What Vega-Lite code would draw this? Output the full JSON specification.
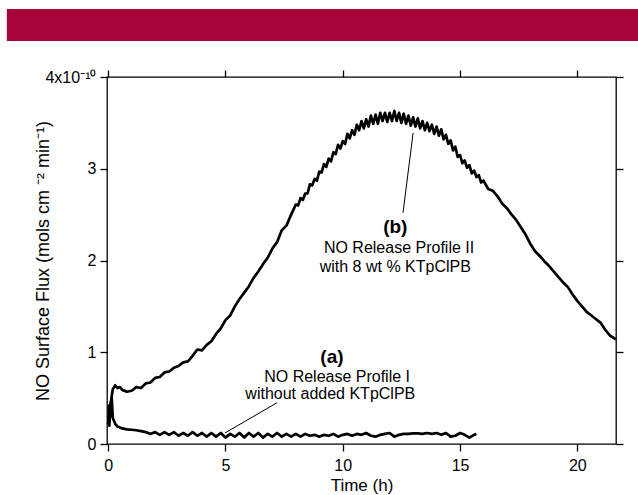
{
  "$schema": "https://vega.github.io/schema/vega-lite/v6.json",
  "autosize": "none",
  "width": 509,
  "height": 367,
  "padding": {"left": 107, "top": 77, "right": 22, "bottom": 51},
  "background": "white",
  "datasets": {
    "series": [
      {"series": "b", "t": 0.0, "v": 0.22}, {"series": "b", "t": 0.05, "v": 0.42}, {"series": "b", "t": 0.1, "v": 0.30}, {"series": "b", "t": 0.15, "v": 0.52}, {"series": "b", "t": 0.2, "v": 0.60}, {"series": "b", "t": 0.3, "v": 0.64}, {"series": "b", "t": 0.4, "v": 0.61}, {"series": "b", "t": 0.5, "v": 0.62}, {"series": "b", "t": 0.6, "v": 0.59}, {"series": "b", "t": 0.8, "v": 0.57},
      {"series": "b", "t": 1.0, "v": 0.58}, {"series": "b", "t": 1.2, "v": 0.62}, {"series": "b", "t": 1.4, "v": 0.61}, {"series": "b", "t": 1.6, "v": 0.66}, {"series": "b", "t": 1.8, "v": 0.67}, {"series": "b", "t": 2.0, "v": 0.72}, {"series": "b", "t": 2.2, "v": 0.73}, {"series": "b", "t": 2.4, "v": 0.78}, {"series": "b", "t": 2.6, "v": 0.79}, {"series": "b", "t": 2.8, "v": 0.83},
      {"series": "b", "t": 3.0, "v": 0.85}, {"series": "b", "t": 3.2, "v": 0.89}, {"series": "b", "t": 3.4, "v": 0.90}, {"series": "b", "t": 3.6, "v": 0.96}, {"series": "b", "t": 3.8, "v": 1.03}, {"series": "b", "t": 4.0, "v": 1.02}, {"series": "b", "t": 4.2, "v": 1.08}, {"series": "b", "t": 4.4, "v": 1.12}, {"series": "b", "t": 4.6, "v": 1.20}, {"series": "b", "t": 4.8, "v": 1.26},
      {"series": "b", "t": 5.0, "v": 1.35}, {"series": "b", "t": 5.2, "v": 1.40}, {"series": "b", "t": 5.4, "v": 1.50}, {"series": "b", "t": 5.6, "v": 1.58}, {"series": "b", "t": 5.8, "v": 1.65}, {"series": "b", "t": 6.0, "v": 1.72}, {"series": "b", "t": 6.2, "v": 1.81}, {"series": "b", "t": 6.4, "v": 1.88}, {"series": "b", "t": 6.6, "v": 1.96}, {"series": "b", "t": 6.8, "v": 2.03},
      {"series": "b", "t": 7.0, "v": 2.13}, {"series": "b", "t": 7.2, "v": 2.20}, {"series": "b", "t": 7.4, "v": 2.33}, {"series": "b", "t": 7.6, "v": 2.38}, {"series": "b", "t": 7.8, "v": 2.50},
      {"series": "b", "t": 8.0, "v": 2.61}, {"series": "b", "t": 8.1, "v": 2.60}, {"series": "b", "t": 8.2, "v": 2.68}, {"series": "b", "t": 8.3, "v": 2.66}, {"series": "b", "t": 8.4, "v": 2.73}, {"series": "b", "t": 8.5, "v": 2.73}, {"series": "b", "t": 8.6, "v": 2.83}, {"series": "b", "t": 8.7, "v": 2.82}, {"series": "b", "t": 8.8, "v": 2.89}, {"series": "b", "t": 8.9, "v": 2.87},
      {"series": "b", "t": 9.0, "v": 2.97}, {"series": "b", "t": 9.1, "v": 2.96}, {"series": "b", "t": 9.2, "v": 3.05}, {"series": "b", "t": 9.3, "v": 3.02}, {"series": "b", "t": 9.4, "v": 3.11}, {"series": "b", "t": 9.5, "v": 3.08}, {"series": "b", "t": 9.6, "v": 3.18}, {"series": "b", "t": 9.7, "v": 3.16}, {"series": "b", "t": 9.8, "v": 3.26}, {"series": "b", "t": 9.9, "v": 3.22},
      {"series": "b", "t": 10.0, "v": 3.30}, {"series": "b", "t": 10.1, "v": 3.27}, {"series": "b", "t": 10.2, "v": 3.38}, {"series": "b", "t": 10.3, "v": 3.33}, {"series": "b", "t": 10.4, "v": 3.42}, {"series": "b", "t": 10.5, "v": 3.37}, {"series": "b", "t": 10.6, "v": 3.48}, {"series": "b", "t": 10.7, "v": 3.42}, {"series": "b", "t": 10.8, "v": 3.52}, {"series": "b", "t": 10.9, "v": 3.44},
      {"series": "b", "t": 11.0, "v": 3.54}, {"series": "b", "t": 11.1, "v": 3.46}, {"series": "b", "t": 11.2, "v": 3.58}, {"series": "b", "t": 11.3, "v": 3.49}, {"series": "b", "t": 11.4, "v": 3.59}, {"series": "b", "t": 11.5, "v": 3.49}, {"series": "b", "t": 11.6, "v": 3.61}, {"series": "b", "t": 11.7, "v": 3.52}, {"series": "b", "t": 11.8, "v": 3.61}, {"series": "b", "t": 11.9, "v": 3.51},
      {"series": "b", "t": 12.0, "v": 3.61}, {"series": "b", "t": 12.1, "v": 3.52}, {"series": "b", "t": 12.2, "v": 3.63}, {"series": "b", "t": 12.3, "v": 3.52}, {"series": "b", "t": 12.4, "v": 3.61}, {"series": "b", "t": 12.5, "v": 3.50}, {"series": "b", "t": 12.6, "v": 3.60}, {"series": "b", "t": 12.7, "v": 3.49}, {"series": "b", "t": 12.8, "v": 3.58}, {"series": "b", "t": 12.9, "v": 3.47},
      {"series": "b", "t": 13.0, "v": 3.56}, {"series": "b", "t": 13.1, "v": 3.46}, {"series": "b", "t": 13.2, "v": 3.55}, {"series": "b", "t": 13.3, "v": 3.44}, {"series": "b", "t": 13.4, "v": 3.52}, {"series": "b", "t": 13.5, "v": 3.42}, {"series": "b", "t": 13.6, "v": 3.50}, {"series": "b", "t": 13.7, "v": 3.41}, {"series": "b", "t": 13.8, "v": 3.48}, {"series": "b", "t": 13.9, "v": 3.38},
      {"series": "b", "t": 14.0, "v": 3.46}, {"series": "b", "t": 14.1, "v": 3.36}, {"series": "b", "t": 14.2, "v": 3.43}, {"series": "b", "t": 14.3, "v": 3.32}, {"series": "b", "t": 14.4, "v": 3.37}, {"series": "b", "t": 14.5, "v": 3.27}, {"series": "b", "t": 14.6, "v": 3.31}, {"series": "b", "t": 14.7, "v": 3.20}, {"series": "b", "t": 14.8, "v": 3.24}, {"series": "b", "t": 14.9, "v": 3.13},
      {"series": "b", "t": 15.0, "v": 3.15}, {"series": "b", "t": 15.1, "v": 3.06}, {"series": "b", "t": 15.2, "v": 3.09}, {"series": "b", "t": 15.3, "v": 3.01}, {"series": "b", "t": 15.4, "v": 3.04}, {"series": "b", "t": 15.5, "v": 2.95}, {"series": "b", "t": 15.6, "v": 2.98}, {"series": "b", "t": 15.7, "v": 2.91}, {"series": "b", "t": 15.8, "v": 2.93}, {"series": "b", "t": 15.9, "v": 2.85},
      {"series": "b", "t": 16.0, "v": 2.87}, {"series": "b", "t": 16.2, "v": 2.78}, {"series": "b", "t": 16.4, "v": 2.76}, {"series": "b", "t": 16.6, "v": 2.70}, {"series": "b", "t": 16.8, "v": 2.62},
      {"series": "b", "t": 17.0, "v": 2.57}, {"series": "b", "t": 17.2, "v": 2.50}, {"series": "b", "t": 17.4, "v": 2.44}, {"series": "b", "t": 17.6, "v": 2.36}, {"series": "b", "t": 17.8, "v": 2.28}, {"series": "b", "t": 18.0, "v": 2.18}, {"series": "b", "t": 18.2, "v": 2.10}, {"series": "b", "t": 18.4, "v": 2.05}, {"series": "b", "t": 18.6, "v": 1.99}, {"series": "b", "t": 18.8, "v": 1.94},
      {"series": "b", "t": 19.0, "v": 1.88}, {"series": "b", "t": 19.2, "v": 1.82}, {"series": "b", "t": 19.4, "v": 1.76}, {"series": "b", "t": 19.6, "v": 1.71}, {"series": "b", "t": 19.8, "v": 1.63}, {"series": "b", "t": 20.0, "v": 1.56}, {"series": "b", "t": 20.2, "v": 1.50}, {"series": "b", "t": 20.4, "v": 1.44}, {"series": "b", "t": 20.6, "v": 1.40}, {"series": "b", "t": 20.8, "v": 1.36},
      {"series": "b", "t": 21.0, "v": 1.32}, {"series": "b", "t": 21.2, "v": 1.24}, {"series": "b", "t": 21.4, "v": 1.18}, {"series": "b", "t": 21.65, "v": 1.14},
      {"series": "a", "t": 0.0, "v": 0.30}, {"series": "a", "t": 0.05, "v": 0.20}, {"series": "a", "t": 0.1, "v": 0.45}, {"series": "a", "t": 0.15, "v": 0.50}, {"series": "a", "t": 0.2, "v": 0.28}, {"series": "a", "t": 0.3, "v": 0.22}, {"series": "a", "t": 0.4, "v": 0.19}, {"series": "a", "t": 0.6, "v": 0.17}, {"series": "a", "t": 0.8, "v": 0.16},
      {"series": "a", "t": 1.0, "v": 0.155}, {"series": "a", "t": 1.2, "v": 0.15}, {"series": "a", "t": 1.4, "v": 0.14}, {"series": "a", "t": 1.6, "v": 0.13}, {"series": "a", "t": 1.8, "v": 0.11}, {"series": "a", "t": 2.0, "v": 0.13}, {"series": "a", "t": 2.2, "v": 0.10}, {"series": "a", "t": 2.4, "v": 0.13}, {"series": "a", "t": 2.6, "v": 0.10}, {"series": "a", "t": 2.8, "v": 0.13},
      {"series": "a", "t": 3.0, "v": 0.09}, {"series": "a", "t": 3.2, "v": 0.12}, {"series": "a", "t": 3.4, "v": 0.09}, {"series": "a", "t": 3.6, "v": 0.13}, {"series": "a", "t": 3.8, "v": 0.09}, {"series": "a", "t": 4.0, "v": 0.12}, {"series": "a", "t": 4.2, "v": 0.08}, {"series": "a", "t": 4.4, "v": 0.12}, {"series": "a", "t": 4.6, "v": 0.08}, {"series": "a", "t": 4.8, "v": 0.12},
      {"series": "a", "t": 5.0, "v": 0.07}, {"series": "a", "t": 5.2, "v": 0.11}, {"series": "a", "t": 5.4, "v": 0.08}, {"series": "a", "t": 5.6, "v": 0.12}, {"series": "a", "t": 5.8, "v": 0.07}, {"series": "a", "t": 6.0, "v": 0.12}, {"series": "a", "t": 6.2, "v": 0.08}, {"series": "a", "t": 6.4, "v": 0.12}, {"series": "a", "t": 6.6, "v": 0.07}, {"series": "a", "t": 6.8, "v": 0.11},
      {"series": "a", "t": 7.0, "v": 0.08}, {"series": "a", "t": 7.2, "v": 0.12}, {"series": "a", "t": 7.4, "v": 0.08}, {"series": "a", "t": 7.6, "v": 0.11}, {"series": "a", "t": 7.8, "v": 0.08}, {"series": "a", "t": 8.0, "v": 0.11}, {"series": "a", "t": 8.2, "v": 0.08}, {"series": "a", "t": 8.4, "v": 0.11}, {"series": "a", "t": 8.6, "v": 0.09}, {"series": "a", "t": 8.8, "v": 0.10},
      {"series": "a", "t": 9.0, "v": 0.08}, {"series": "a", "t": 9.2, "v": 0.10}, {"series": "a", "t": 9.4, "v": 0.09}, {"series": "a", "t": 9.6, "v": 0.11}, {"series": "a", "t": 9.8, "v": 0.08}, {"series": "a", "t": 10.0, "v": 0.10}, {"series": "a", "t": 10.2, "v": 0.11}, {"series": "a", "t": 10.4, "v": 0.09}, {"series": "a", "t": 10.6, "v": 0.11}, {"series": "a", "t": 10.8, "v": 0.10},
      {"series": "a", "t": 11.0, "v": 0.12}, {"series": "a", "t": 11.2, "v": 0.09}, {"series": "a", "t": 11.4, "v": 0.08}, {"series": "a", "t": 11.6, "v": 0.10}, {"series": "a", "t": 11.8, "v": 0.11}, {"series": "a", "t": 12.0, "v": 0.12}, {"series": "a", "t": 12.2, "v": 0.08}, {"series": "a", "t": 12.4, "v": 0.10}, {"series": "a", "t": 12.6, "v": 0.11}, {"series": "a", "t": 12.8, "v": 0.11},
      {"series": "a", "t": 13.0, "v": 0.115}, {"series": "a", "t": 13.2, "v": 0.115}, {"series": "a", "t": 13.4, "v": 0.11}, {"series": "a", "t": 13.6, "v": 0.12}, {"series": "a", "t": 13.8, "v": 0.11}, {"series": "a", "t": 14.0, "v": 0.12}, {"series": "a", "t": 14.2, "v": 0.10}, {"series": "a", "t": 14.4, "v": 0.12}, {"series": "a", "t": 14.6, "v": 0.08}, {"series": "a", "t": 14.8, "v": 0.09},
      {"series": "a", "t": 15.0, "v": 0.12}, {"series": "a", "t": 15.2, "v": 0.10}, {"series": "a", "t": 15.4, "v": 0.07}, {"series": "a", "t": 15.6, "v": 0.10}, {"series": "a", "t": 15.7, "v": 0.11}
    ],
    "leaders": [
      {"name": "b", "t": 12.57, "v": 2.52, "t2": 13.0, "v2": 3.39},
      {"name": "a", "t": 4.98, "v": 0.12, "t2": 7.2, "v2": 0.45}
    ],
    "labels": [
      {"label": "NO Release Profile II", "t": 12.4, "v": 2.14},
      {"label": "with 8 wt % KTpClPB", "t": 12.24, "v": 1.93},
      {"label": "NO Release Profile I", "t": 9.76, "v": 0.73},
      {"label": "without added KTpClPB", "t": 9.47, "v": 0.54}
    ],
    "heads": [
      {"label": "(b)", "t": 12.24, "v": 2.37},
      {"label": "(a)", "t": 9.54, "v": 0.95}
    ]
  },
  "layer": [
    {
      "data": {"values": [{"part": "banner"}]},
      "mark": {"type": "rect", "color": "#A8053A"},
      "encoding": {
        "x": {"datum": -4.32, "type": "quantitative", "axis": null},
        "x2": {"datum": 22.6},
        "y": {"datum": 4.392, "type": "quantitative", "axis": null},
        "y2": {"datum": 4.741}
      }
    },
    {
      "data": {"name": "series"},
      "mark": {"type": "line", "color": "black", "strokeWidth": 2.7, "strokeJoin": "round"},
      "encoding": {
        "x": {"field": "t", "type": "quantitative",
              "scale": {"domain": [-0.05, 21.65], "nice": false, "zero": false},
              "axis": {"orient": "bottom", "values": [0, 5, 10, 15, 20], "title": "Time (h)", "labelPadding": 6, "titlePadding": 4}},
        "y": {"field": "v", "type": "quantitative",
              "scale": {"domain": [0, 4], "nice": false, "zero": false},
              "axis": {"orient": "left", "values": [0, 1, 2, 3, 4], "labelPadding": 4,
                       "labelExpr": "datum.value == 4 ? '4x10\u207b\u00b9\u2070' : datum.label",
                       "title": "NO Surface Flux (mols cm \u207b\u00b2 min\u207b\u00b9)", "titleX": -55, "titleFontSize": 18}},
        "detail": {"field": "series", "type": "nominal"}
      }
    },
    {
      "data": {"name": "leaders"},
      "mark": {"type": "rule", "color": "black", "strokeWidth": 1},
      "encoding": {
        "x": {"field": "t", "type": "quantitative",
              "axis": {"orient": "top", "values": [0, 5, 10, 15, 20], "labels": false, "title": null}},
        "x2": {"field": "t2"},
        "y": {"field": "v", "type": "quantitative",
              "axis": {"orient": "right", "values": [0, 1, 2, 3, 4], "labels": false, "title": null}},
        "y2": {"field": "v2"}
      }
    },
    {
      "data": {"name": "labels"},
      "mark": {"type": "text", "fontSize": 16, "color": "black", "baseline": "middle", "align": "center"},
      "encoding": {
        "x": {"field": "t", "type": "quantitative", "axis": null},
        "y": {"field": "v", "type": "quantitative", "axis": null},
        "text": {"field": "label"}
      }
    },
    {
      "data": {"name": "heads"},
      "mark": {"type": "text", "fontSize": 19, "fontWeight": "bold", "color": "black", "baseline": "middle", "align": "center"},
      "encoding": {
        "x": {"field": "t", "type": "quantitative", "axis": null},
        "y": {"field": "v", "type": "quantitative", "axis": null},
        "text": {"field": "label"}
      }
    }
  ],
  "resolve": {"axis": {"x": "independent", "y": "independent"}},
  "config": {
    "view": {"stroke": "black", "strokeWidth": 1.3},
    "axis": {"grid": false, "domain": false, "tickColor": "black", "tickSize": 7, "tickWidth": 1.3,
             "labelColor": "black", "labelFont": "Liberation Sans", "labelFontSize": 16,
             "titleFont": "Liberation Sans", "titleFontSize": 17, "titleFontWeight": "normal", "titleColor": "black"},
    "text": {"font": "Liberation Sans"}
  }
}
